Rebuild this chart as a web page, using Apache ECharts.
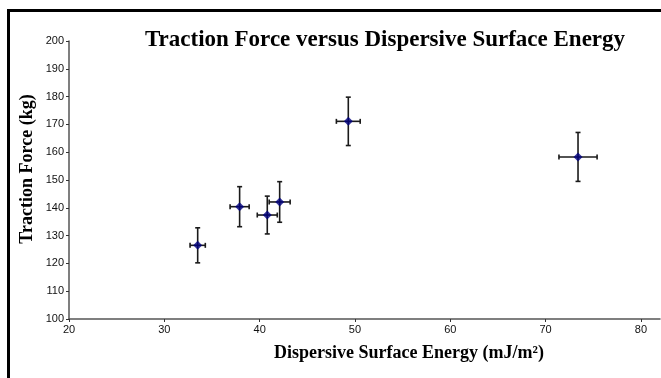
<!DOCTYPE html>
<html>
<head>
<meta charset="utf-8">
<script src="https://cdn.jsdelivr.net/npm/echarts@6/dist/echarts.min.js"></script>
<style>
  html, body { margin: 0; padding: 0; background: #fff; }
  #chart { width: 661px; height: 378px; }
</style>
</head>
<body>
<div id="chart"></div>
<script>
// surface energy (mJ/m2) vs traction force (kg), with +/- errors
const energy = [33.5, 37.9, 40.8, 42.1, 49.3, 73.4]
const force = [126.5, 140.4, 137.4, 142.1, 171.1, 158.3]
const energyErr = [0.8, 1.0, 1.05, 1.1, 1.25, 2.0]
const forceErr = [6.3, 7.2, 6.8, 7.3, 8.7, 8.8]

const TITLE = 'Traction Force versus Dispersive Surface Energy'
const X_NAME = 'Dispersive Surface Energy (mJ/m²)'
const Y_NAME = 'Traction Force (kg)'

const points = energy.map((x, i) => [x, force[i]])
const bars = energy.map((x, i) => [x, force[i], energyErr[i], forceErr[i]])

const CAP = 2.5

function renderErr(params, api) {
  const x = api.value(0)
  const y = api.value(1)
  const dx = api.value(2)
  const dy = api.value(3)
  const left = api.coord([x - dx, y])
  const right = api.coord([x + dx, y])
  const top = api.coord([x, y + dy])
  const bottom = api.coord([x, y - dy])
  const style = { stroke: '#1a1a1a', lineWidth: 1.6 }
  const seg = (x1, y1, x2, y2) => ({
    type: 'line',
    shape: { x1, y1, x2, y2 },
    style
  })
  return {
    type: 'group',
    children: [
      seg(top[0], top[1], bottom[0], bottom[1]),
      seg(top[0] - CAP, top[1], top[0] + CAP, top[1]),
      seg(bottom[0] - CAP, bottom[1], bottom[0] + CAP, bottom[1]),
      seg(left[0], left[1], right[0], right[1]),
      seg(left[0], left[1] - CAP, left[0], left[1] + CAP),
      seg(right[0], right[1] - CAP, right[0], right[1] + CAP)
    ]
  }
}

const tickFont = { fontFamily: 'Liberation Sans', fontSize: 11, color: '#111' }
const serifBold = { fontFamily: 'Liberation Serif', fontWeight: 'bold', color: '#000' }

const chart = echarts.init(document.getElementById('chart'), null, { renderer: 'canvas' })
chart.setOption({
  animation: false,
  backgroundColor: '#fff',
  grid: { left: 69, top: 41, right: 1, bottom: 59 },
  xAxis: {
    type: 'value',
    min: 20,
    max: 82,
    interval: 10,
    axisLine: { lineStyle: { color: '#555', width: 1.5 } },
    axisTick: { show: true, inside: false, length: 3, lineStyle: { color: '#333' } },
    axisLabel: Object.assign({ margin: 5, showMaxLabel: false }, tickFont),
    splitLine: { show: false }
  },
  yAxis: {
    type: 'value',
    min: 100,
    max: 200,
    interval: 10,
    axisLine: { show: true, lineStyle: { color: '#555', width: 1.5 } },
    axisTick: { show: true, inside: false, length: 3, lineStyle: { color: '#333' } },
    axisLabel: Object.assign({ margin: 5 }, tickFont),
    splitLine: { show: false }
  },
  graphic: [
    {
      type: 'rect',
      shape: { x: 8.5, y: 10.5, width: 700, height: 400 },
      style: { fill: null, stroke: '#000', lineWidth: 3 },
      silent: true
    },
    {
      type: 'text',
      x: 385,
      y: 40,
      style: Object.assign({ text: TITLE, fontSize: 23, align: 'center', verticalAlign: 'middle' }, serifBold)
    },
    {
      type: 'text',
      x: 409,
      y: 353,
      style: Object.assign({ text: X_NAME, fontSize: 18, align: 'center', verticalAlign: 'middle' }, serifBold)
    },
    {
      type: 'text',
      x: 27,
      y: 169,
      rotation: Math.PI / 2,
      style: Object.assign({ text: Y_NAME, fontSize: 18, align: 'center', verticalAlign: 'middle' }, serifBold)
    }
  ],
  series: [
    {
      type: 'custom',
      renderItem: renderErr,
      data: bars,
      z: 2
    },
    {
      type: 'scatter',
      data: points,
      symbol: 'diamond',
      symbolSize: 9,
      itemStyle: { color: '#000080' },
      z: 3
    }
  ]
})
</script>
</body>
</html>
